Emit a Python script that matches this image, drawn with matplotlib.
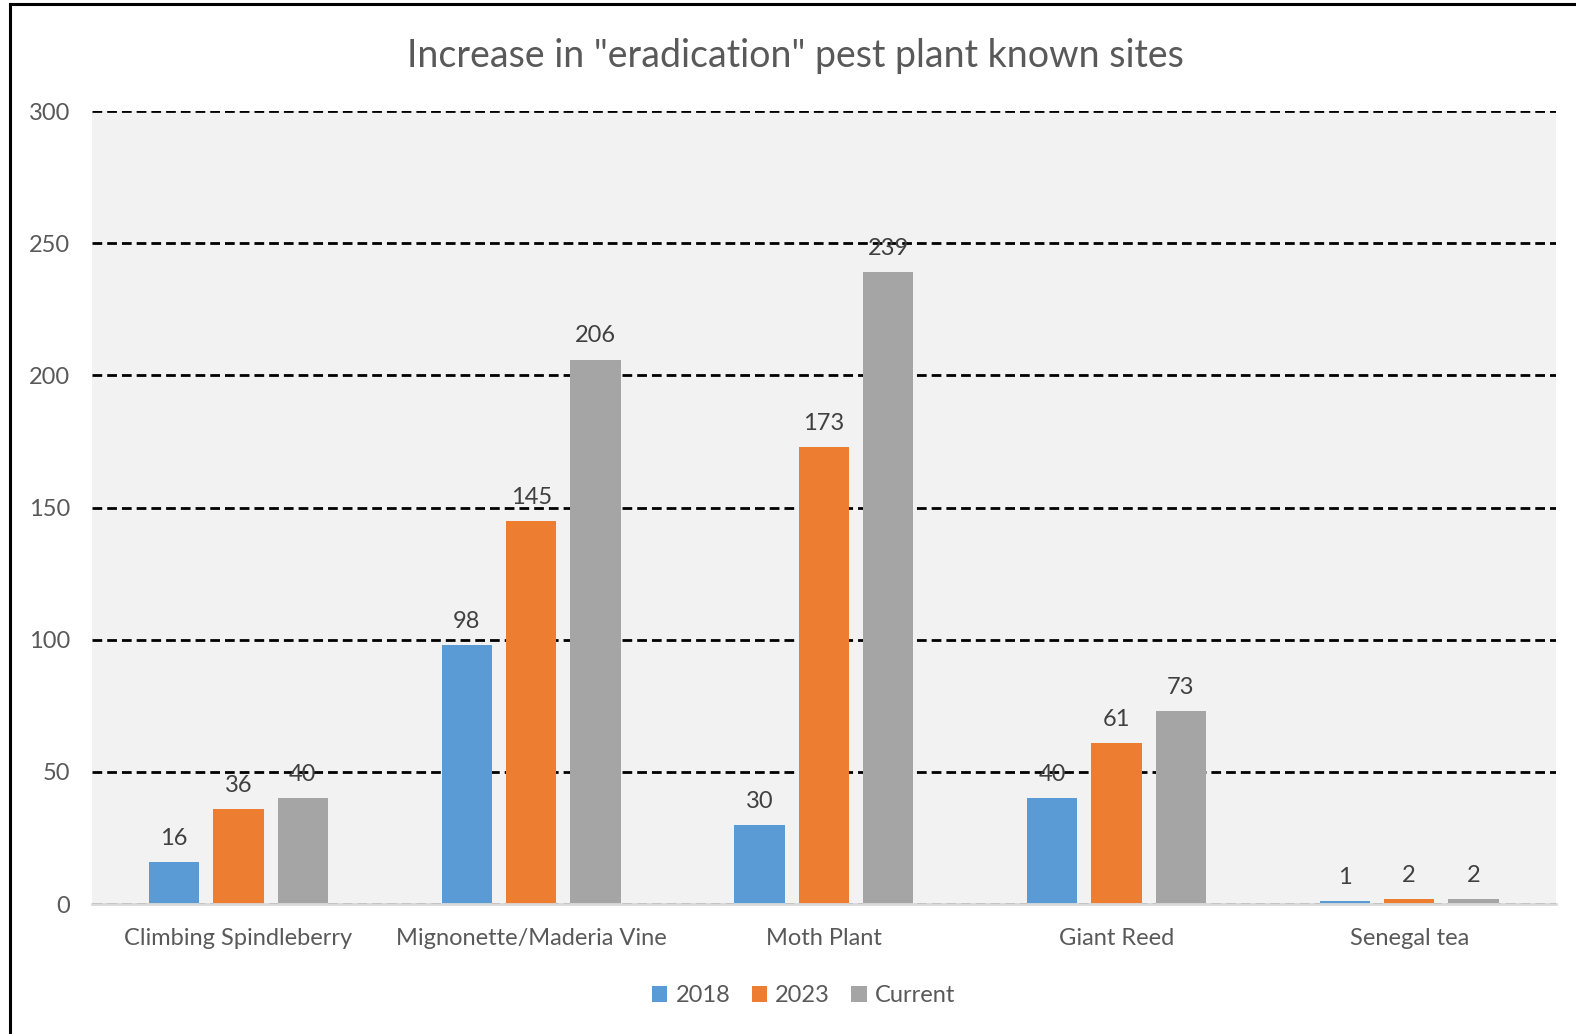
import matplotlib.pyplot as plt
import numpy as np
from matplotlib.lines import Line2D

categories = ["Climbing Spindleberry", "Mignonette/Maderia Vine", "Moth Plant", "Giant Reed", "Senegal tea"]
series_names = ["2018", "2023", "Current"]
vals_2018 = [16, 98, 30, 40, 1]
vals_2023 = [36, 145, 173, 61, 2]
vals_current = [40, 206, 239, 73, 2]
colors = ["#5b9bd5", "#ed7d31", "#a5a5a5"]

plt.rcParams["font.family"] = ["Lato", "DejaVu Sans"]

fig = plt.figure(figsize=(15.76, 10.34), dpi=100)
fig.patch.set_facecolor("white")
ax = fig.add_axes([0.0584, 0.1257, 0.9286, 0.7669])
ax.set_facecolor("#f2f2f2")

x = np.arange(len(categories))
width = 0.172
step = 0.22
for i, (name, vals) in enumerate(zip(series_names, [vals_2018, vals_2023, vals_current])):
    pos = x + (i - 1) * step
    bars = ax.bar(pos, vals, width, color=colors[i], label=name, zorder=3)
    for b, v in zip(bars, vals):
        ax.annotate(str(v), (b.get_x() + b.get_width() / 2, v), xytext=(0, 9.5),
                    textcoords="offset points", ha="center", va="bottom",
                    fontsize=17, color="#404040", zorder=5)

ax.set_xlim(-0.5, 4.5)
ax.set_ylim(0, 300)
ax.set_yticks(np.arange(0, 301, 50))
ax.set_xticks(x)
ax.set_xticklabels(categories)
ax.tick_params(axis="both", length=0, labelsize=17, colors="#595959")
ax.tick_params(axis="x", pad=17)
ax.tick_params(axis="y", pad=16)
ax.yaxis.grid(True, color="black", linestyle=(0, (3.5, 1.8)), linewidth=2.0, zorder=1)
ax.set_axisbelow(True)
for s in ["top", "right", "left"]:
    ax.spines[s].set_visible(False)
ax.spines["bottom"].set_color("#d9d9d9")
ax.spines["bottom"].set_linewidth(2)
ax.spines["bottom"].set_zorder(4)

fig.text(0.505, 0.946, 'Increase in "eradication" pest plant known sites', ha="center", va="center",
         fontsize=27, color="#595959")

leg = fig.legend(loc="center", bbox_to_anchor=(0.51, 0.037), ncol=3, frameon=False,
                 fontsize=17, handlelength=0.65, handleheight=0.65, handletextpad=0.35,
                 columnspacing=0.9)
for t in leg.get_texts():
    t.set_color("#595959")

# outer chart border (left and top)
fig.add_artist(Line2D([0.0065, 0.0065], [0, 0.996], color="black", linewidth=2.2))
fig.add_artist(Line2D([0.0065, 1.0], [0.996, 0.996], color="black", linewidth=2.2))

fig.savefig("out.png", dpi=100)
